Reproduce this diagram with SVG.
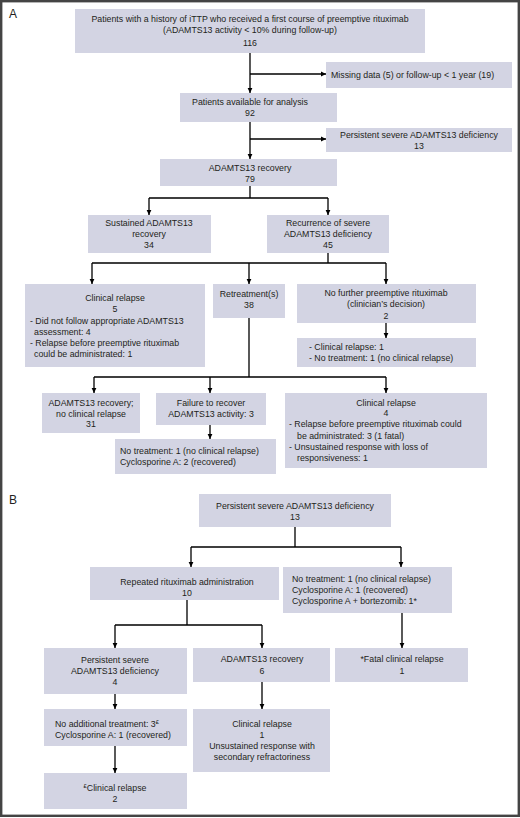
<svg xmlns="http://www.w3.org/2000/svg" width="520" height="818" viewBox="0 0 520 818">
<style>
.b{fill:#d3d4e3}
text{font-family:"Liberation Sans",Arial,sans-serif;font-size:8.8px;fill:#231f20}
.c{text-anchor:middle}
.lbl{font-size:12px}
.cn{fill:none;stroke:#000;stroke-width:1.3}
.sup{font-size:5.8px}
</style>
<defs>
<marker id="ar" markerUnits="userSpaceOnUse" markerWidth="6" markerHeight="6" refX="5" refY="3" orient="auto">
<path d="M0,0.6 L5,3 L0,5.4 Z" fill="#000"/>
</marker>
</defs>
<rect x="1.2" y="1.2" width="517.6" height="814.6" fill="#fff" stroke="#444" stroke-width="2.4"/>
<text class="lbl" x="9" y="18">A</text>
<text class="lbl" x="9" y="504">B</text>

<g id="connectors">
<path class="cn" d="M250,53 V93" marker-end="url(#ar)"/>
<path class="cn" d="M250,74 H326" marker-end="url(#ar)"/>
<path class="cn" d="M250,122 V159" marker-end="url(#ar)"/>
<path class="cn" d="M250,139 H326" marker-end="url(#ar)"/>
<path class="cn" d="M250,186 V198 M149,198 H328"/>
<path class="cn" d="M149,198 V215" marker-end="url(#ar)"/>
<path class="cn" d="M328,198 V215" marker-end="url(#ar)"/>
<path class="cn" d="M328,253 V263 M92,263 H386"/>
<path class="cn" d="M92,263 V284" marker-end="url(#ar)"/>
<path class="cn" d="M249,263 V284" marker-end="url(#ar)"/>
<path class="cn" d="M386,263 V284" marker-end="url(#ar)"/>
<path class="cn" d="M386,323 V338" marker-end="url(#ar)"/>
<path class="cn" d="M249,318 V377 M94,377 H386"/>
<path class="cn" d="M94,377 V393" marker-end="url(#ar)"/>
<path class="cn" d="M210,377 V393" marker-end="url(#ar)"/>
<path class="cn" d="M386,377 V393" marker-end="url(#ar)"/>
<path class="cn" d="M210,425 V439" marker-end="url(#ar)"/>
<path class="cn" d="M295,527 V547 M191,547 H401"/>
<path class="cn" d="M191,547 V567" marker-end="url(#ar)"/>
<path class="cn" d="M401,547 V567" marker-end="url(#ar)"/>
<path class="cn" d="M187,600 V625 M115,625 H262"/>
<path class="cn" d="M115,625 V648" marker-end="url(#ar)"/>
<path class="cn" d="M262,625 V648" marker-end="url(#ar)"/>
<path class="cn" d="M402,613 V648" marker-end="url(#ar)"/>
<path class="cn" d="M115,694 V709" marker-end="url(#ar)"/>
<path class="cn" d="M262,682 V709" marker-end="url(#ar)"/>
<path class="cn" d="M115,746 V773" marker-end="url(#ar)"/>
</g>

<g id="n-top"><rect class="b" x="75" y="9" width="350" height="44"/>
<text class="c" x="250" y="22">Patients with a history of iTTP who received a first course of preemptive rituximab</text>
<text class="c" x="250" y="33">(ADAMTS13 activity &lt; 10% during follow-up)</text>
<text class="c" x="250" y="45.5">116</text></g>

<g id="n-missing"><rect class="b" x="326" y="62" width="186" height="26"/>
<text x="331" y="78">Missing data (5) or follow-up &lt; 1 year (19)</text></g>

<g id="n-available"><rect class="b" x="180" y="93" width="157" height="29"/>
<text class="c" x="250" y="105">Patients available for analysis</text>
<text class="c" x="250" y="116">92</text></g>

<g id="n-persistA"><rect class="b" x="326" y="128" width="186" height="24"/>
<text class="c" x="419" y="138">Persistent severe ADAMTS13 deficiency</text>
<text class="c" x="419" y="148.5">13</text></g>

<g id="n-recovery"><rect class="b" x="160" y="159" width="177" height="27"/>
<text class="c" x="250" y="171">ADAMTS13 recovery</text>
<text class="c" x="250" y="182">79</text></g>

<g id="n-sustained"><rect class="b" x="88" y="215" width="123" height="38"/>
<text class="c" x="149" y="226">Sustained ADAMTS13</text>
<text class="c" x="149" y="237">recovery</text>
<text class="c" x="149" y="248">34</text></g>

<g id="n-recurrence"><rect class="b" x="267" y="215" width="122" height="38"/>
<text class="c" x="328" y="226">Recurrence of severe</text>
<text class="c" x="328" y="237">ADAMTS13 deficiency</text>
<text class="c" x="328" y="248">45</text></g>

<g id="n-relapse5"><rect class="b" x="25" y="284" width="180" height="83"/>
<text class="c" x="115" y="301">Clinical relapse</text>
<text class="c" x="115" y="312">5</text>
<text x="30" y="324">- Did not follow appropriate ADAMTS13</text>
<text x="34" y="334.5">assessment: 4</text>
<text x="30" y="346">- Relapse before preemptive rituximab</text>
<text x="34" y="356.5">could be administrated: 1</text></g>

<g id="n-retreat"><rect class="b" x="213" y="284" width="72" height="34"/>
<text class="c" x="249" y="297">Retreatment(s)</text>
<text class="c" x="249" y="308">38</text></g>

<g id="n-nofurther"><rect class="b" x="297" y="284" width="179" height="39"/>
<text class="c" x="386" y="296">No further preemptive rituximab</text>
<text class="c" x="386" y="307">(clinician’s decision)</text>
<text class="c" x="386" y="319">2</text></g>

<g id="n-nofurther-out"><rect class="b" x="297" y="338" width="179" height="29"/>
<text x="309" y="350">- Clinical relapse: 1</text>
<text x="309" y="360.5">- No treatment: 1 (no clinical relapse)</text></g>

<g id="n-rec31"><rect class="b" x="42" y="393" width="98" height="40"/>
<text class="c" x="91" y="406">ADAMTS13 recovery;</text>
<text class="c" x="91" y="416.5">no clinical relapse</text>
<text class="c" x="91" y="427">31</text></g>

<g id="n-failure"><rect class="b" x="156" y="393" width="110" height="32"/>
<text class="c" x="211" y="406">Failure to recover</text>
<text class="c" x="211" y="417">ADAMTS13 activity: 3</text></g>

<g id="n-failure-out"><rect class="b" x="115" y="439" width="161" height="35"/>
<text x="120" y="454">No treatment: 1 (no clinical relapse)</text>
<text x="120" y="465">Cyclosporine A: 2 (recovered)</text></g>

<g id="n-relapse4"><rect class="b" x="285" y="393" width="202" height="75"/>
<text class="c" x="386" y="406">Clinical relapse</text>
<text class="c" x="386" y="415.5">4</text>
<text x="289" y="427">- Relapse before preemptive rituximab could</text>
<text x="297" y="439">be administrated: 3 (1 fatal)</text>
<text x="289" y="450">- Unsustained response with loss of</text>
<text x="297" y="461">responsiveness: 1</text></g>

<g id="n-persistB"><rect class="b" x="199" y="494" width="192" height="33"/>
<text class="c" x="295" y="509">Persistent severe ADAMTS13 deficiency</text>
<text class="c" x="295" y="520">13</text></g>

<g id="n-repeated"><rect class="b" x="90" y="567" width="189" height="33"/>
<text class="c" x="187" y="585">Repeated rituximab administration</text>
<text class="c" x="187" y="595.5">10</text></g>

<g id="n-notreatB"><rect class="b" x="283" y="567" width="169" height="46"/>
<text x="292" y="582">No treatment: 1 (no clinical relapse)</text>
<text x="292" y="593">Cyclosporine A: 1 (recovered)</text>
<text x="292" y="604">Cyclosporine A + bortezomib: 1*</text></g>

<g id="n-persist4"><rect class="b" x="44" y="648" width="143" height="46"/>
<text class="c" x="115" y="663">Persistent severe</text>
<text class="c" x="115" y="674">ADAMTS13 deficiency</text>
<text class="c" x="115" y="685">4</text></g>

<g id="n-rec6"><rect class="b" x="193" y="648" width="137" height="34"/>
<text class="c" x="262" y="662">ADAMTS13 recovery</text>
<text class="c" x="262" y="674">6</text></g>

<g id="n-fatal"><rect class="b" x="335" y="648" width="133" height="34"/>
<text class="c" x="402" y="662">*Fatal clinical relapse</text>
<text class="c" x="402" y="674">1</text></g>

<g id="n-noadd"><rect class="b" x="44" y="709" width="143" height="37"/>
<text x="55" y="727">No additional treatment: 3<tspan class="sup" dy="-3">£</tspan></text>
<text x="55" y="737.5">Cyclosporine A: 1 (recovered)</text></g>

<g id="n-relapse2"><rect class="b" x="44" y="773" width="143" height="36"/>
<text class="c" x="115" y="791"><tspan class="sup" dy="-3">£</tspan><tspan dy="3">Clinical relapse</tspan></text>
<text class="c" x="115" y="802">2</text></g>

<g id="n-relapse1"><rect class="b" x="193" y="709" width="137" height="63"/>
<text class="c" x="262" y="727">Clinical relapse</text>
<text class="c" x="262" y="737.5">1</text>
<text class="c" x="262" y="749">Unsustained response with</text>
<text class="c" x="262" y="760">secondary refractoriness</text></g>
</svg>
